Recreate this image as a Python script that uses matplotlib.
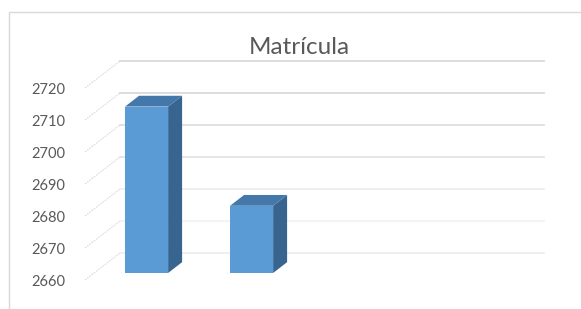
import matplotlib
matplotlib.use("Agg")
import matplotlib.pyplot as plt
from matplotlib.patches import Polygon, Rectangle

plt.rcParams['font.family'] = ['Lato', 'DejaVu Sans']

title = "Matrícula"
values = [2712, 2681]
n_slots = 4
y_ticks = [2660, 2670, 2680, 2690, 2700, 2710, 2720]

# gridline shades, bottom to top (lower lines look washed out in the original)
grid_cols = ['#EEEEEE', '#F2F2F2', '#EEEEEE', '#E4E4E4', '#DEDEDE', '#D9D9D9', '#D9D9D9']

# pseudo-3D geometry (data units)
ymin = 2660
wall_dx, wall_dy = 0.333, 8.44     # depth of the back wall
bar_off = 0.26                     # bar front face position within the depth
bar_depth = 0.4
bar_w = 0.41

W, H = 581, 309
fig = plt.figure(figsize=(W / 100, H / 100), dpi=100)
# axes: left edge at the front-left floor corner, y mapped 3.2 px per unit
px_per = 3.2
y_bot = ymin - (H - 280) / px_per
y_top = ymin + 280 / px_per
ax = fig.add_axes([85 / W, 0, 1 - 85 / W, 1])
ax.set_ylim(y_bot, y_top)
ax.set_xlim(-0.5, -0.5 + (W - 85) / 105)
for s in ax.spines.values():
    s.set_visible(False)
ax.set_xticks([])
ax.set_yticks(y_ticks)
ax.tick_params(axis='y', length=0, pad=14, labelsize=10.5, labelcolor='#595959')

# chart border
fig.patches.append(Rectangle((9 / W, -0.1), 1.2, 1 - 12 / H + 0.1, transform=fig.transFigure,
                             fill=False, edgecolor='#D9D9D9', lw=1))

x0, x1 = -0.5, n_slots - 0.5 + 0.04
for v, gc in zip(y_ticks, grid_cols):
    # side wall lines
    ax.plot([x0, x0 + wall_dx], [v, v + wall_dy], color='#DADADA', lw=0.8,
            ls=(0, (1.5, 1)), clip_on=False, zorder=0)
    # back wall gridlines
    ax.plot([x0 + wall_dx, x1 + wall_dx], [v + wall_dy, v + wall_dy], color=gc,
            lw=1.3, clip_on=False, zorder=0)

fdx, fdy = bar_off * wall_dx, bar_off * wall_dy
ddx, ddy = bar_depth * wall_dx, bar_depth * wall_dy
for i, v in enumerate(values):
    xl = i + fdx - bar_w / 2
    xr = xl + bar_w
    b = ymin + fdy
    t = v + fdy
    ax.add_patch(Polygon([(xr, b), (xr + ddx, b + ddy), (xr + ddx, t + ddy), (xr, t)],
                         closed=True, facecolor='#38658F', edgecolor='none', clip_on=False,
                         zorder=3))
    ax.add_patch(Polygon([(xl, t), (xl + ddx, t + ddy), (xr + ddx, t + ddy), (xr, t)],
                         closed=True, facecolor='#4478AA', edgecolor='none', clip_on=False,
                         zorder=3))
    ax.bar(i + fdx, v - ymin, bottom=b, width=bar_w, color='#5B9BD5', clip_on=False, zorder=3)

fig.text(299 / W, 1 - 47 / H, title, ha='center', va='center', fontsize=17.5, color='#595959')

fig.savefig('out.png', dpi=100)
